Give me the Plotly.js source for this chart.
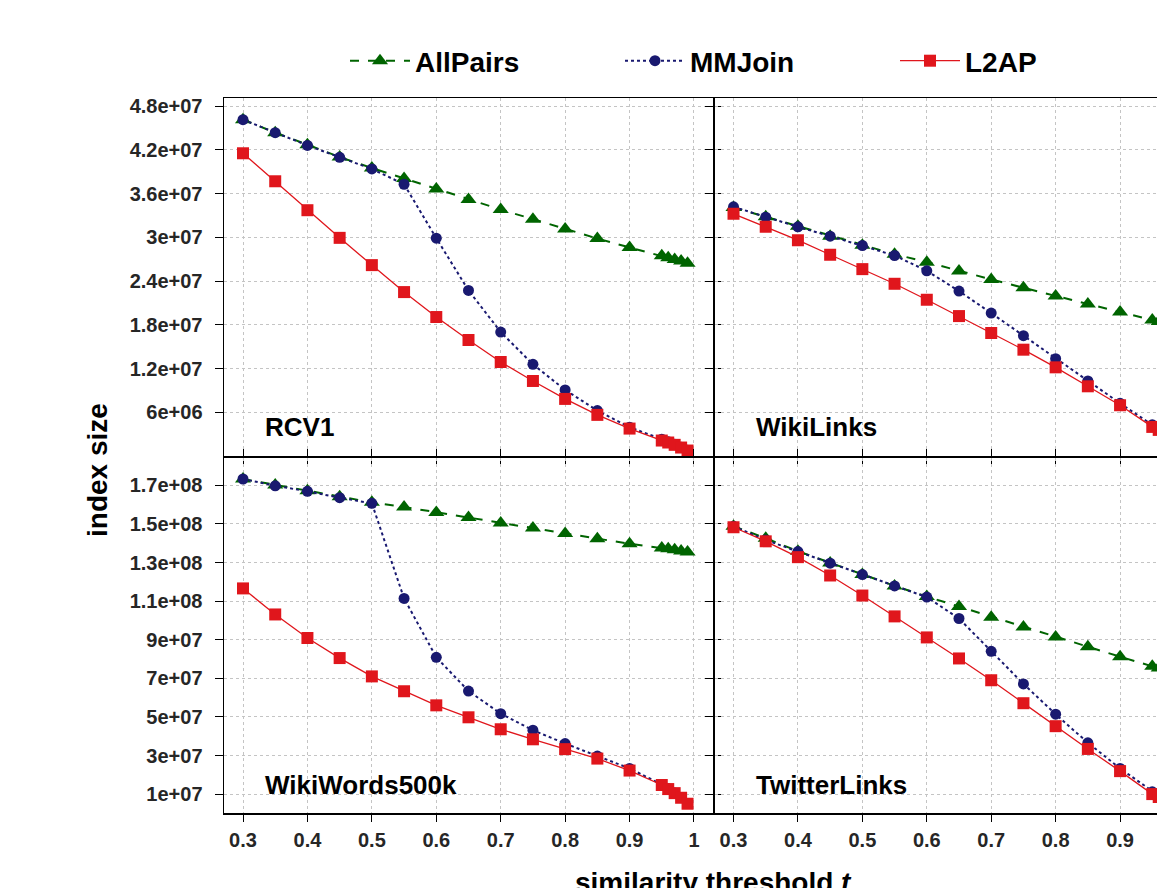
<!DOCTYPE html>
<html>
<head>
<meta charset="utf-8">
<script src="https://cdn.plot.ly/plotly-3.0.1.min.js"></script>
<style>
html,body{margin:0;padding:0;overflow:hidden;background:#fff;}
#chart{width:1250px;height:888px;}
</style>
</head>
<body>
<div id="chart"></div>
<script>
// thresholds
var thresholds = [0.3,0.35,0.4,0.45,0.5,0.55,0.6,0.65,0.7,0.75,0.8,0.85,0.9,0.95,0.96,0.97,0.98,0.99];

// RCV1
var rcv1AllPairs = [4.613e7,4.435e7,4.27e7,4.10e7,3.95e7,3.805e7,3.663e7,3.517e7,3.38e7,3.248e7,3.115e7,2.983e7,2.86e7,2.746e7,2.718e7,2.695e7,2.673e7,2.645e7];
var rcv1MMJoin   = [4.613e7,4.435e7,4.26e7,4.097e7,3.937e7,3.727e7,2.988e7,2.271e7,1.70e7,1.257e7,9.06e6,6.23e6,3.95e6,2.3e6,1.95e6,1.6e6,1.2e6,0.8e6];
var rcv1L2AP     = [4.152e7,3.768e7,3.371e7,2.992e7,2.618e7,2.248e7,1.906e7,1.591e7,1.289e7,1.029e7,7.83e6,5.64e6,3.76e6,2.12e6,1.85e6,1.53e6,1.16e6,0.75e6];

// WikiLinks
var wlAllPairs = [3.408e7,3.28e7,3.152e7,3.015e7,2.892e7,2.768e7,2.659e7,2.536e7,2.422e7,2.307e7,2.193e7,2.084e7,1.974e7,1.865e7,1.846e7,1.825e7,1.80e7,1.78e7];
var wlMMJoin   = [3.417e7,3.275e7,3.143e7,3.015e7,2.887e7,2.75e7,2.54e7,2.262e7,1.96e7,1.65e7,1.335e7,1.029e7,7.23e6,4.27e6,3.7e6,3.2e6,2.7e6,2.2e6];
var wlL2AP     = [3.321e7,3.143e7,2.96e7,2.76e7,2.563e7,2.362e7,2.143e7,1.919e7,1.687e7,1.458e7,1.216e7,9.56e6,6.96e6,3.99e6,3.58e6,3.1e6,2.6e6,2.1e6];

// WikiWords500k
var wwAllPairs = [1.733e8,1.702e8,1.672e8,1.641e8,1.612e8,1.588e8,1.56e8,1.533e8,1.505e8,1.479e8,1.45e8,1.424e8,1.398e8,1.376e8,1.371e8,1.367e8,1.36e8,1.355e8];
var wwMMJoin   = [1.733e8,1.698e8,1.669e8,1.636e8,1.607e8,1.114e8,8.09e7,6.34e7,5.17e7,4.31e7,3.62e7,2.97e7,2.33e7,1.5e7,1.28e7,1.06e7,8.2e6,5.1e6];
var wwL2AP     = [1.166e8,1.031e8,9.09e7,8.05e7,7.10e7,6.33e7,5.60e7,4.98e7,4.36e7,3.84e7,3.33e7,2.84e7,2.22e7,1.47e7,1.26e7,1.05e7,8.1e6,5.0e6];

// TwitterLinks
var twAllPairs = [1.488e8,1.426e8,1.359e8,1.298e8,1.238e8,1.179e8,1.124e8,1.072e8,1.017e8,9.66e7,9.14e7,8.64e7,8.12e7,7.62e7,7.53e7,7.43e7,7.33e7,7.23e7];
var twMMJoin   = [1.488e8,1.417e8,1.357e8,1.297e8,1.238e8,1.179e8,1.121e8,1.01e8,8.40e7,6.71e7,5.14e7,3.66e7,2.33e7,1.12e7,9.2e6,7.5e6,5.8e6,4.0e6];
var twL2AP     = [1.483e8,1.41e8,1.328e8,1.233e8,1.129e8,1.021e8,9.12e7,8.03e7,6.9e7,5.71e7,4.52e7,3.34e7,2.19e7,1.0e7,8.5e6,6.9e6,5.2e6,3.5e6];

// tick labels
var xTickVals = [0.3,0.4,0.5,0.6,0.7,0.8,0.9,1];
var xTickText = ["0.3","0.4","0.5","0.6","0.7","0.8","0.9","1"];
var topTickVals = [6e6,1.2e7,1.8e7,2.4e7,3e7,3.6e7,4.2e7,4.8e7];
var topTickText = ["6e+06","1.2e+07","1.8e+07","2.4e+07","3e+07","3.6e+07","4.2e+07","4.8e+07"];
var botTickVals = [1e7,3e7,5e7,7e7,9e7,1.1e8,1.3e8,1.5e8,1.7e8];
var botTickText = ["1e+07","3e+07","5e+07","7e+07","9e+07","1.1e+08","1.3e+08","1.5e+08","1.7e+08"];

var seriesNames = ["AllPairs","MMJoin","L2AP"];
var panelNames = ["RCV1","WikiLinks","WikiWords500k","TwitterLinks"];

var FONT = "Liberation Sans, Arial, sans-serif";
var styles = [
  {color:"#006400", dash:"dash", width:2, symbol:"triangle-up", size:14},
  {color:"#191970", dash:"dot", width:2, symbol:"circle", size:11},
  {color:"#e0161c", dash:"solid", width:1.3, symbol:"square", size:12}
];

var panels = [
  {data:[rcv1AllPairs,rcv1MMJoin,rcv1L2AP], xa:"x", ya:"y"},
  {data:[wlAllPairs,wlMMJoin,wlL2AP], xa:"x2", ya:"y2"},
  {data:[wwAllPairs,wwMMJoin,wwL2AP], xa:"x3", ya:"y3"},
  {data:[twAllPairs,twMMJoin,twL2AP], xa:"x4", ya:"y4"}
];

var traces = [];
panels.forEach(function(p, pi){
  p.data.forEach(function(vals, si){
    var s = styles[si];
    traces.push({
      type:"scatter", mode:"lines+markers",
      x: thresholds, y: vals, xaxis:p.xa, yaxis:p.ya,
      name: seriesNames[si], legendgroup: seriesNames[si],
      showlegend: pi === 0,
      line:{color:s.color, dash:s.dash, width:s.width},
      marker:{color:s.color, symbol:s.symbol, size:s.size, line:{width:0}},
      hoverinfo:"x+y"
    });
  });
});

var W = 1250, H = 888;
var LW = 1.5;
var xL = [224/W, 713/W], xR = [(713+LW)/W, (1202+LW)/W];
var yT = [1-456/H, 1-98/H], yB = [1-813/H, 1-(456+LW)/H];
var tickFont = {family:FONT, size:20, weight:"bold", color:"#262626"};

function xaxis(domain, anchor, showLabels, mirror){
  return {domain:domain, anchor:anchor, range:[0.2705,1.0295],
    tickmode:"array", tickvals:xTickVals, ticktext:xTickText,
    showticklabels:showLabels, ticks:"outside", ticklen:7, tickwidth:1, tickcolor:"#000",
    showline:true, linecolor:"#000", linewidth:LW, mirror:mirror,
    showgrid:true, gridcolor:"#c4c4c4", griddash:"dot", gridwidth:1,
    zeroline:false, tickfont:tickFont, ticklabelstandoff:1, fixedrange:true, automargin:false};
}
function yaxis(domain, anchor, range, vals, text, showLabels){
  return {domain:domain, anchor:anchor, range:range,
    tickmode:"array", tickvals:vals, ticktext:text,
    showticklabels:showLabels, ticks:"outside", ticklen:8, tickwidth:1, tickcolor:"#000",
    showline:true, linecolor:"#000", linewidth:LW, mirror:"ticks",
    showgrid:true, gridcolor:"#c4c4c4", griddash:"dot", gridwidth:1,
    zeroline:false, tickfont:tickFont, ticklabelstandoff:8, fixedrange:true, automargin:false};
}

var topRange = [0, 4.91e7];
var botRange = [2e5, 1.8445e8];

var annFont = {family:FONT, size:26, weight:"bold", color:"#000"};
var annotations = [
  {text:panelNames[0], xref:"x domain", yref:"y domain", x:0.08, y:0.081, xanchor:"left", yanchor:"middle", showarrow:false, font:annFont},
  {text:panelNames[1], xref:"x2 domain", yref:"y2 domain", x:0.08, y:0.081, xanchor:"left", yanchor:"middle", showarrow:false, font:annFont},
  {text:panelNames[2], xref:"x3 domain", yref:"y3 domain", x:0.08, y:0.078, xanchor:"left", yanchor:"middle", showarrow:false, font:annFont},
  {text:panelNames[3], xref:"x4 domain", yref:"y4 domain", x:0.08, y:0.078, xanchor:"left", yanchor:"middle", showarrow:false, font:annFont},
  {text:"index size", xref:"paper", yref:"paper", x:97/W, y:1-470/H, textangle:-90, xanchor:"center", yanchor:"middle", showarrow:false,
   font:{family:FONT, size:28, weight:"bold", color:"#000"}},
  {text:"similarity threshold <i>t</i>", xref:"paper", yref:"paper", x:713/W, y:1-882/H, xanchor:"center", yanchor:"middle", showarrow:false,
   font:{family:FONT, size:28, weight:"bold", color:"#000"}}
];

var layout = {
  width:W, height:H,
  margin:{l:0, r:0, t:0, b:0, autoexpand:false},
  paper_bgcolor:"#fff", plot_bgcolor:"#fff",
  font:{family:FONT},
  showlegend:true,
  legend:{orientation:"h", x:345/W, y:1-61/H, xanchor:"left", yanchor:"middle",
    font:{family:FONT, size:28, weight:"bold", color:"#000"},
    itemwidth:60, entrywidth:200, entrywidthmode:"pixels", bgcolor:"rgba(0,0,0,0)"},
  xaxis: xaxis(xL, "y", false, true),
  xaxis2: xaxis(xR, "y2", false, true),
  xaxis3: xaxis(xL, "y3", true, "ticks"),
  xaxis4: xaxis(xR, "y4", true, "ticks"),
  yaxis: yaxis(yT, "x", topRange, topTickVals, topTickText, true),
  yaxis2: yaxis(yT, "x2", topRange, topTickVals, topTickText, false),
  yaxis3: yaxis(yB, "x3", botRange, botTickVals, botTickText, true),
  yaxis4: yaxis(yB, "x4", botRange, botTickVals, botTickText, false),
  annotations: annotations
};

Plotly.newPlot("chart", traces, layout, {displayModeBar:false, staticPlot:true});
</script>
</body>
</html>
